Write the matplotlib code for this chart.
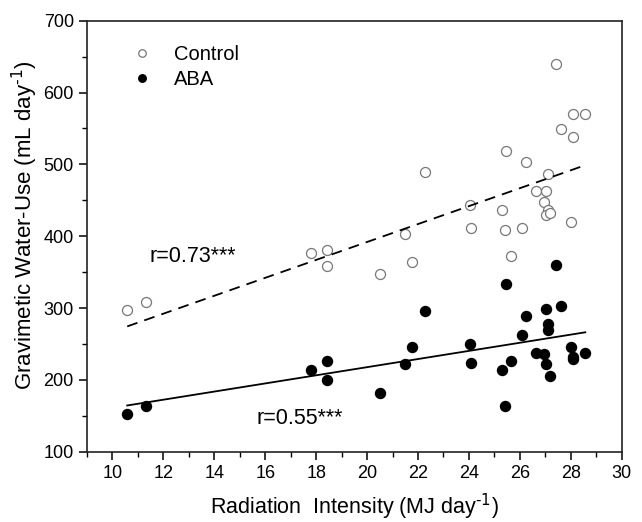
import numpy as np
import matplotlib
matplotlib.use('Agg')
import matplotlib.pyplot as plt
from matplotlib.ticker import MultipleLocator

plt.rcParams['font.family'] = ['Liberation Sans', 'DejaVu Sans']
plt.rcParams['mathtext.default'] = 'regular'

# radiation intensity (MJ day-1), shared by both treatments
radiation = [10.58, 11.33, 17.79, 18.41, 18.44, 20.50, 21.48, 21.77, 22.28, 24.04,
             24.08, 25.31, 25.46, 25.41, 25.67, 26.09, 26.26, 26.63, 26.94, 27.04,
             27.10, 27.12, 27.04, 27.20, 27.41, 27.63, 28.00, 28.10, 28.08, 28.57]

control_use = [297, 309, 377, 381, 358, 348, 403, 364, 489, 443,
               411, 437, 519, 408, 373, 411, 504, 463, 447, 463,
               486, 437, 430, 433, 640, 549, 420, 570, 538, 570]

aba_use = [152, 164, 214, 226, 200, 182, 222, 246, 296, 250,
           224, 214, 334, 164, 226, 262, 289, 238, 236, 298,
           278, 269, 222, 206, 360, 303, 246, 232, 229, 238]

r_labels = ['r=0.73***', 'r=0.55***']


def fit_line(x, y):
    k, b = np.polyfit(x, y, 1)
    xs = np.array([min(x), max(x)])
    return xs, k * xs + b


def plot():
    fig = plt.figure(figsize=(6.42, 5.22), dpi=100)
    ax = fig.add_axes([0.1355, 0.1347, 0.8329, 0.8256])

    ax.plot(radiation, control_use, 'o', ms=7.2, mfc='white', mec='#777777', mew=0.9,
            linestyle='none', label='Control')
    ax.plot(radiation, aba_use, 'o', ms=7.2, mfc='black', mec='black',
            linestyle='none', label='ABA')

    xs, ys = fit_line(radiation, control_use)
    ax.plot(xs, ys, color='black', lw=1.3, dashes=(6, 4))
    xs, ys = fit_line(radiation, aba_use)
    ax.plot(xs, ys, color='black', lw=1.3)

    ax.text(11.47, 372, r_labels[0], fontsize=15.5, va='center', ha='left')
    ax.text(15.64, 146, r_labels[1], fontsize=15.5, va='center', ha='left')

    ax.set_xlim(9, 30)
    ax.set_ylim(100, 700)
    ax.xaxis.set_major_locator(MultipleLocator(2))
    ax.xaxis.set_minor_locator(MultipleLocator(1))
    ax.yaxis.set_major_locator(MultipleLocator(100))
    ax.yaxis.set_minor_locator(MultipleLocator(50))
    ax.set_xticks(range(10, 31, 2))
    ax.tick_params(which='major', direction='out', length=6, width=1.1, labelsize=13,
                   top=False, right=False)
    ax.tick_params(which='minor', direction='out', length=3.5, width=1.0,
                   top=False, right=False)
    for side in ax.spines.values():
        side.set_linewidth(1.2)
        side.set_color('#222222')

    ax.set_xlabel(r'Radiation  Intensity (MJ day$^{\text{-1}}$)', fontsize=15.5, labelpad=7)
    ax.set_ylabel(r'Gravimetic Water-Use (mL day$^{\text{-1}}$)', fontsize=16)
    ax.yaxis.set_label_coords(-0.088, 0.526)

    ax.legend(loc='upper left', bbox_to_anchor=(0.05, 0.985), frameon=False, fontsize=14.5,
              markerscale=0.75, handletextpad=1.1, handlelength=1.0, labelspacing=0.3)

    fig.savefig('out.png', dpi=100)


if __name__ == '__main__':
    plot()
